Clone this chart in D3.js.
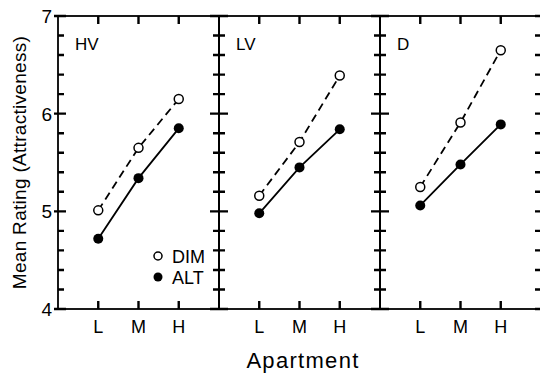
<!DOCTYPE html>
<html>
<head>
<meta charset="utf-8">
<script src="https://cdn.jsdelivr.net/npm/d3@7"></script>
<style>
  body { margin: 0; background: #fff; }
  svg { display: block; font-family: "Liberation Sans", Arial, sans-serif; }
</style>
</head>
<body>
<svg width="540" height="376"></svg>
<script>
let panels = ["HV", "LV", "D"];
let levels = ["L", "M", "H"];
let dimValues = [[5.01, 5.65, 6.15], [5.16, 5.71, 6.39], [5.25, 5.91, 6.65]];
let altValues = [[4.72, 5.34, 5.85], [4.98, 5.45, 5.84], [5.06, 5.48, 5.89]];
let yTicks = [4, 5, 6, 7];

let svg = d3.select("svg");
let mLeft = 58, mRight = 541, mTop = 16, mBottom = 309;
let panelW = (mRight - mLeft) / panels.length;

let y = d3.scaleLinear().domain([4, 7]).range([mBottom, mTop]);
let px = d3.scaleBand().domain(panels).range([mLeft, mRight]);
let x = d3.scalePoint().domain(levels).range([0, panelW]).padding(1);

let minor = d3.range(4, 7.001, 0.2).filter(v => Math.abs(v - Math.round(v)) > 0.01);

function tickPath(x0, x1, yy) {
  return "M" + x0 + "," + yy + "H" + x1;
}

// outer frame
svg.append("rect")
  .attr("x", mLeft).attr("y", mTop)
  .attr("width", mRight - mLeft).attr("height", mBottom - mTop)
  .attr("fill", "none").attr("stroke", "#000").attr("stroke-width", 1.8);

// left axis ticks
svg.append("path")
  .attr("d", yTicks.map(d => tickPath(mLeft - 4, mLeft + 8, y(d))).join("")
    + minor.map(d => tickPath(mLeft, mLeft + 6, y(d))).join(""))
  .attr("fill", "none").attr("stroke", "#000").attr("stroke-width", 2.4);

// right-side ticks
svg.append("path")
  .attr("d", yTicks.concat(minor).map(d => tickPath(mRight - 6, mRight, y(d))).join(""))
  .attr("fill", "none").attr("stroke", "#000").attr("stroke-width", 2.4);

svg.append("g").selectAll("text")
  .data(yTicks).enter().append("text")
  .attr("x", mLeft - 6).attr("y", d => y(d)).attr("dy", "0.36em")
  .attr("text-anchor", "end").attr("font-size", 19)
  .text(d => d);

let line = d3.line()
  .x((d, i) => x(levels[i]))
  .y(d => y(d));

panels.forEach((p, k) => {
  let g = svg.append("g").attr("transform", `translate(${px(p)},0)`);

  if (k > 0) {
    g.append("path")
      .attr("d", "M0," + mTop + "V" + mBottom)
      .attr("stroke", "#000").attr("stroke-width", 2);
    g.append("path")
      .attr("d", yTicks.map(d => tickPath(-9, 9, y(d))).join("")
        + minor.map(d => tickPath(-6, 6, y(d))).join(""))
      .attr("fill", "none").attr("stroke", "#000").attr("stroke-width", 2.4);
  }

  // x ticks top and bottom
  g.append("path")
    .attr("d", levels.map(l => "M" + x(l) + "," + mTop + "V" + (mTop + 8)
      + "M" + x(l) + "," + mBottom + "V" + (mBottom - 8)).join(""))
    .attr("fill", "none").attr("stroke", "#000").attr("stroke-width", 2.4);

  g.append("g").selectAll("text")
    .data(levels).enter().append("text")
    .attr("x", d => x(d)).attr("y", mBottom + 24)
    .attr("text-anchor", "middle").attr("font-size", 18)
    .text(d => d);

  g.append("text")
    .attr("x", 17).attr("y", 50)
    .attr("font-size", 17)
    .text(p);

  g.append("path")
    .attr("d", line(dimValues[k]))
    .attr("fill", "none").attr("stroke", "#000").attr("stroke-width", 1.8)
    .attr("stroke-dasharray", "8,5");
  g.append("path")
    .attr("d", line(altValues[k]))
    .attr("fill", "none").attr("stroke", "#000").attr("stroke-width", 1.8);

  g.append("g").selectAll("circle")
    .data(dimValues[k]).enter().append("circle")
    .attr("cx", (d, i) => x(levels[i])).attr("cy", d => y(d)).attr("r", 4.5)
    .attr("fill", "#fff").attr("stroke", "#000").attr("stroke-width", 1.5);
  g.append("g").selectAll("circle")
    .data(altValues[k]).enter().append("circle")
    .attr("cx", (d, i) => x(levels[i])).attr("cy", d => y(d)).attr("r", 5)
    .attr("fill", "#000");
});

// legend
let lg = svg.append("g").attr("transform", `translate(${px("HV")},0)`);
lg.append("circle").attr("cx", 100).attr("cy", 256).attr("r", 4)
  .attr("fill", "#fff").attr("stroke", "#000").attr("stroke-width", 1.5);
lg.append("text").attr("x", 114).attr("y", 263).attr("font-size", 18).text("DIM");
lg.append("circle").attr("cx", 100).attr("cy", 277).attr("r", 4.5).attr("fill", "#000");
lg.append("text").attr("x", 114).attr("y", 284).attr("font-size", 18).text("ALT");

// axis titles
svg.append("text")
  .attr("x", 303).attr("y", 368)
  .attr("text-anchor", "middle").attr("font-size", 22)
  .attr("letter-spacing", 1.3)
  .text("Apartment");
svg.append("text")
  .attr("transform", `translate(26,${(mTop + mBottom) / 2}) rotate(-90)`)
  .attr("text-anchor", "middle").attr("font-size", 19)
  .attr("letter-spacing", 0.3)
  .text("Mean Rating (Attractiveness)");
</script>
</body>
</html>
